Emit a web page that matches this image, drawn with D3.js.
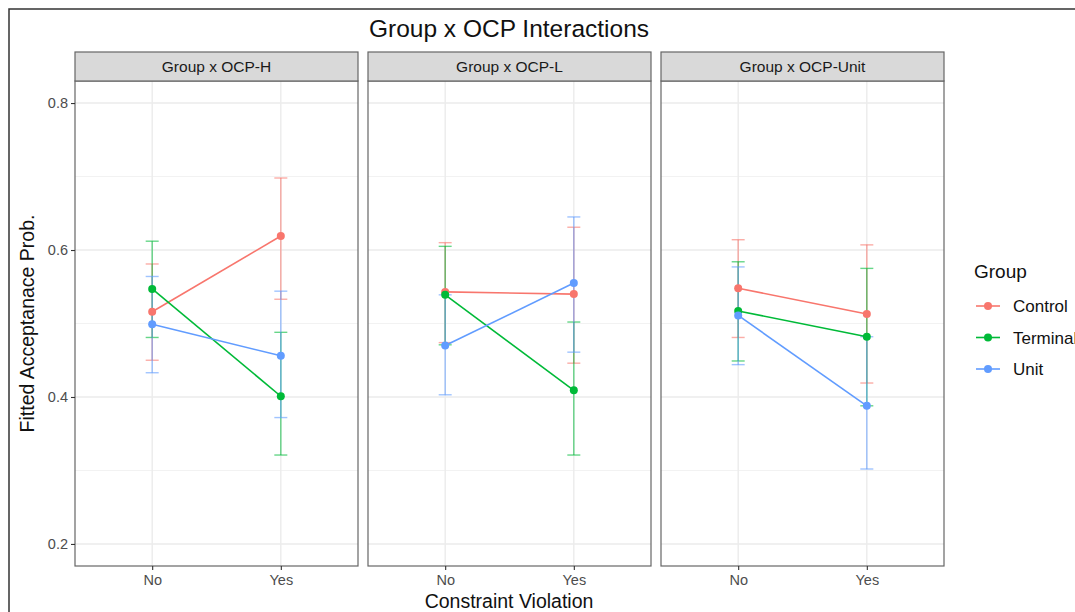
<!DOCTYPE html>
<html><head><meta charset="utf-8">
<script src="https://cdn.jsdelivr.net/npm/d3@7"></script>
<style>body{margin:0;background:#fff;}svg{display:block;font-family:"Liberation Sans",Arial,sans-serif;}</style>
</head><body>
<script>
const panels = ["Group x OCP-H", "Group x OCP-L", "Group x OCP-Unit"];
const levels = ["No", "Yes"];
const groups = ["Control", "Terminal", "Unit"];
const colors = ["#F8766D", "#00BA38", "#619CFF"];
const yTicks = [0.2, 0.4, 0.6, 0.8];
const yMinor = [0.3, 0.5, 0.7];
// fitted values per panel, group, level [No, Yes]
const fitH   = {Control:[0.516,0.619], Terminal:[0.547,0.401], Unit:[0.499,0.456]};
const lowH   = {Control:[0.450,0.533], Terminal:[0.481,0.321], Unit:[0.433,0.372]};
const highH  = {Control:[0.581,0.698], Terminal:[0.612,0.488], Unit:[0.564,0.544]};
const fitL   = {Control:[0.543,0.540], Terminal:[0.539,0.409], Unit:[0.470,0.555]};
const lowL   = {Control:[0.474,0.446], Terminal:[0.471,0.321], Unit:[0.403,0.461]};
const highL  = {Control:[0.610,0.631], Terminal:[0.605,0.502], Unit:[0.539,0.645]};
const fitU   = {Control:[0.548,0.513], Terminal:[0.517,0.482], Unit:[0.511,0.388]};
const lowU   = {Control:[0.481,0.419], Terminal:[0.449,0.388], Unit:[0.444,0.302]};
const highU  = {Control:[0.614,0.607], Terminal:[0.584,0.575], Unit:[0.577,0.482]};
const fits = [fitH, fitL, fitU], lows = [lowH, lowL, lowU], highs = [highH, highL, highU];

const W = 1075, H = 612;
const svg = d3.select("body").append("svg").attr("width", W).attr("height", H);
svg.append("rect").attr("width", W).attr("height", H).attr("fill", "#fff");
svg.append("rect").attr("x", 9).attr("y", 9).attr("width", W + 20).attr("height", H + 20)
  .attr("fill", "none").attr("stroke", "#333").attr("stroke-width", 1.5);

const panelX = [75, 368, 661], panelW = 283;
const stripTop = 52, pTop = 81, pBottom = 566;
const y = d3.scaleLinear().domain([0.17, 0.83]).range([pBottom, pTop]);

svg.append("text").attr("x", 509).attr("y", 37).attr("text-anchor", "middle")
  .attr("font-size", 24.5).attr("fill", "#111").text("Group x OCP Interactions");

panels.forEach((name, pi) => {
  const x0 = panelX[pi];
  // ggplot discrete expansion: 0.6 units each side => scalePoint padding 0.6
  const x = d3.scalePoint().domain(levels).range([x0, x0 + panelW]).padding(0.6);
  const g = svg.append("g");
  g.append("rect").attr("x", x0).attr("y", pTop).attr("width", panelW).attr("height", pBottom - pTop).attr("fill", "#fff");
  yMinor.forEach(v => g.append("line").attr("x1", x0).attr("x2", x0 + panelW).attr("y1", y(v)).attr("y2", y(v))
    .attr("stroke", "#f2f2f2").attr("stroke-width", 1));
  yTicks.forEach(v => g.append("line").attr("x1", x0).attr("x2", x0 + panelW).attr("y1", y(v)).attr("y2", y(v))
    .attr("stroke", "#ebebeb").attr("stroke-width", 1.4));
  levels.forEach(l => g.append("line").attr("x1", x(l)).attr("x2", x(l)).attr("y1", pTop).attr("y2", pBottom)
    .attr("stroke", "#ebebeb").attr("stroke-width", 1.4));

  // error bars
  groups.forEach((grp, gi) => {
    levels.forEach((l, li) => {
      const cx = x(l), lo = y(lows[pi][grp][li]), hi = y(highs[pi][grp][li]);
      const eb = g.append("g").attr("stroke", colors[gi]).attr("stroke-width", 1.4).attr("stroke-opacity", 0.6);
      eb.append("line").attr("x1", cx).attr("x2", cx).attr("y1", lo).attr("y2", hi);
      eb.append("line").attr("x1", cx - 6.5).attr("x2", cx + 6.5).attr("y1", lo).attr("y2", lo);
      eb.append("line").attr("x1", cx - 6.5).attr("x2", cx + 6.5).attr("y1", hi).attr("y2", hi);
    });
  });
  // lines
  const line = d3.line().x((d, i) => x(levels[i])).y(d => y(d));
  groups.forEach((grp, gi) => {
    g.append("path").attr("d", line(fits[pi][grp])).attr("fill", "none")
      .attr("stroke", colors[gi]).attr("stroke-width", 1.6);
  });
  groups.forEach((grp, gi) => {
    fits[pi][grp].forEach((v, li) => g.append("circle").attr("cx", x(levels[li])).attr("cy", y(v)).attr("r", 4)
      .attr("fill", colors[gi]));
  });

  g.append("rect").attr("x", x0).attr("y", pTop).attr("width", panelW).attr("height", pBottom - pTop)
    .attr("fill", "none").attr("stroke", "#666").attr("stroke-width", 1.2);
  // strip
  g.append("rect").attr("x", x0).attr("y", stripTop).attr("width", panelW).attr("height", pTop - stripTop)
    .attr("fill", "#d9d9d9").attr("stroke", "#666").attr("stroke-width", 1.2);
  g.append("text").attr("x", x0 + panelW / 2).attr("y", (stripTop + pTop) / 2 + 5).attr("text-anchor", "middle")
    .attr("font-size", 15.5).attr("fill", "#1a1a1a").text(name);

  // x axis
  const xa = g.append("g").attr("transform", `translate(0,${pBottom})`)
    .call(d3.axisBottom(x).tickSize(4).tickPadding(5));
  xa.select(".domain").remove();
  xa.selectAll("line").attr("stroke", "#333").attr("stroke-width", 1.1);
  xa.selectAll("text").attr("font-size", 14.5).attr("fill", "#4d4d4d").attr("font-family", "Liberation Sans, Arial, sans-serif");
});

// y axis
const ya = svg.append("g").attr("transform", `translate(${panelX[0]},0)`)
  .call(d3.axisLeft(y).tickValues(yTicks).tickFormat(d3.format(".1f")).tickSize(4).tickPadding(3));
ya.select(".domain").remove();
ya.selectAll("line").attr("stroke", "#333").attr("stroke-width", 1.1);
ya.selectAll("text").attr("font-size", 14.5).attr("fill", "#4d4d4d").attr("font-family", "Liberation Sans, Arial, sans-serif");

svg.append("text").attr("transform", `translate(34,${(pTop + pBottom) / 2}) rotate(-90)`).attr("text-anchor", "middle")
  .attr("font-size", 19.5).attr("fill", "#111").text("Fitted Acceptanace Prob.");
svg.append("text").attr("x", 509).attr("y", 608).attr("text-anchor", "middle")
  .attr("font-size", 19.5).attr("fill", "#111").text("Constraint Violation");

// legend
const lg = svg.append("g");
lg.append("text").attr("x", 974).attr("y", 278).attr("font-size", 19).attr("fill", "#111").text("Group");
groups.forEach((grp, gi) => {
  const cy = 306 + gi * 31.5;
  lg.append("line").attr("x1", 976).attr("x2", 1000).attr("y1", cy).attr("y2", cy)
    .attr("stroke", colors[gi]).attr("stroke-width", 1.6);
  lg.append("circle").attr("cx", 988).attr("cy", cy).attr("r", 4).attr("fill", colors[gi]);
  lg.append("text").attr("x", 1013).attr("y", cy + 6).attr("font-size", 17).attr("fill", "#111").text(grp);
});
</script>
</body></html>
